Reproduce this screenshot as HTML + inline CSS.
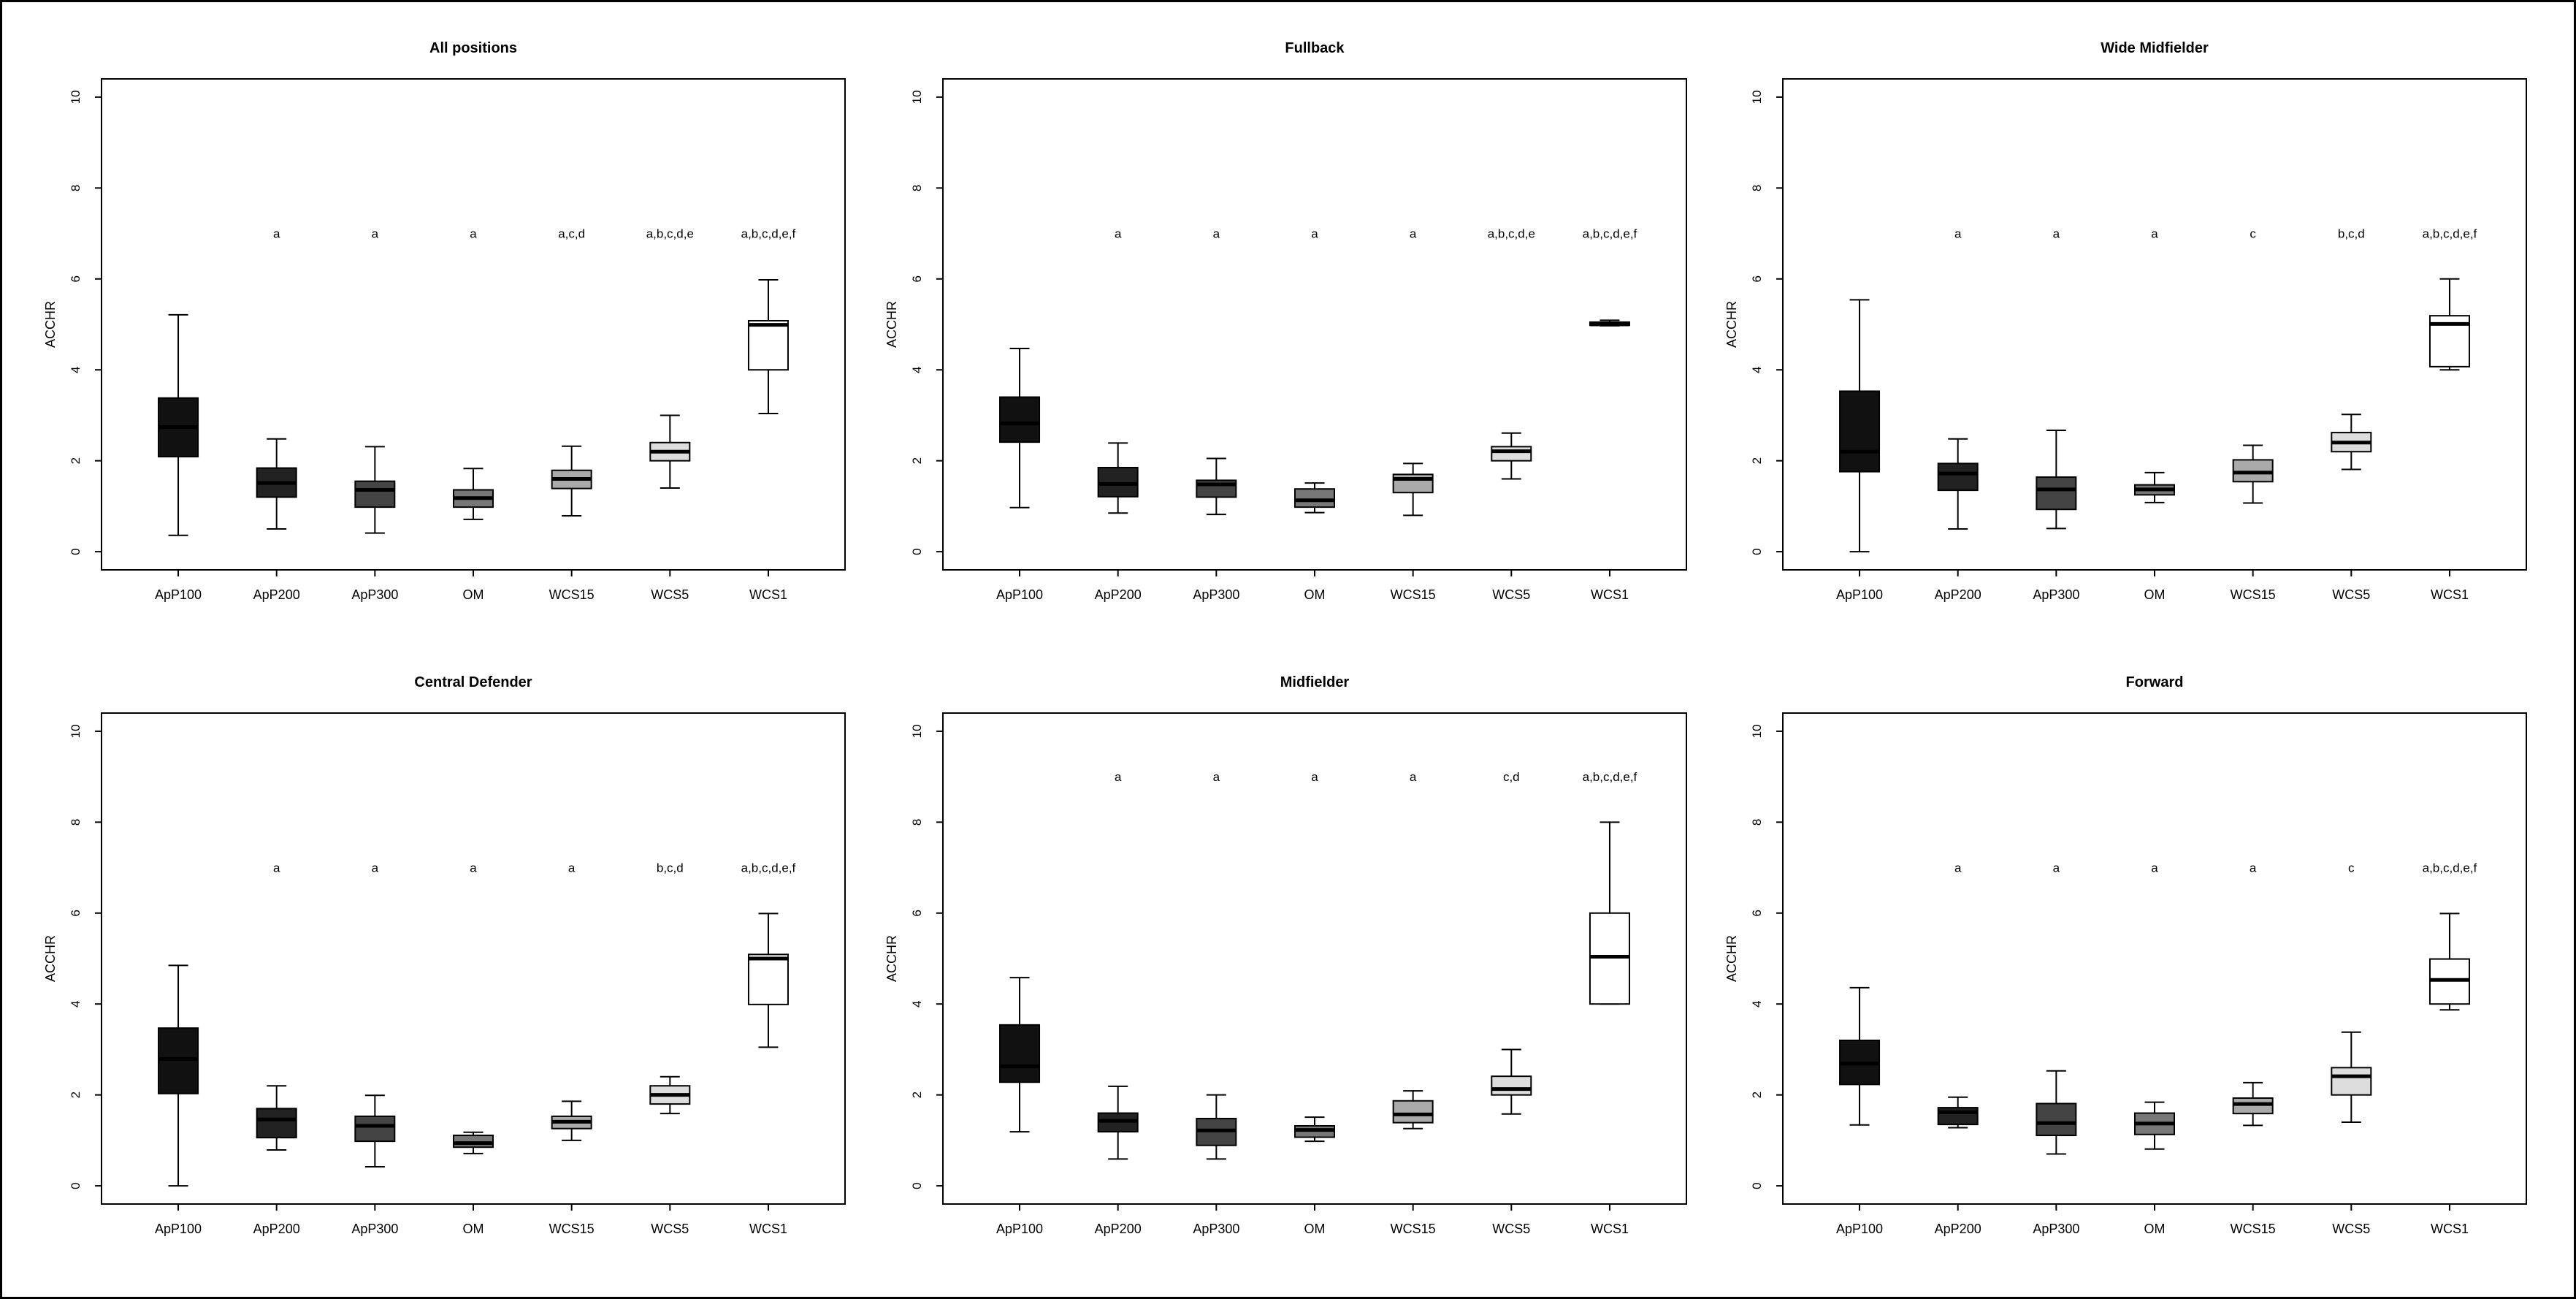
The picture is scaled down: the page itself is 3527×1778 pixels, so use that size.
<!DOCTYPE html>
<html><head><meta charset="utf-8"><style>
html,body{margin:0;padding:0;background:#fff}
svg{display:block}
text{font-family:"Liberation Sans",Arial,sans-serif;fill:#000}
</style></head><body>
<svg id="fig" width="3527" height="1778" viewBox="0 0 3527 1778" xmlns="http://www.w3.org/2000/svg">
<rect x="1.5" y="1.5" width="3524" height="1775" fill="#fff" stroke="#000" stroke-width="3"/>
</svg>
<script>
const categories = ["ApP100","ApP200","ApP300","OM","WCS15","WCS5","WCS1"];
const fills = ["#111111","#222222","#444444","#777777","#aaaaaa","#dddddd","#ffffff"];
const panelTitles = ["All positions","Fullback","Wide Midfielder","Central Defender","Midfielder","Forward"];
const yTicks = [0,2,4,6,8,10];
// each box: [lower whisker, Q1, median, Q3, upper whisker]
const allPositions = [[0.36,2.09,2.74,3.38,5.21],[0.5,1.2,1.51,1.84,2.48],[0.41,0.98,1.36,1.55,2.31],[0.71,0.98,1.18,1.36,1.83],[0.79,1.39,1.6,1.79,2.32],[1.4,2.0,2.2,2.4,3.0],[3.04,4.0,4.99,5.08,5.98]];
const fullback = [[0.97,2.41,2.82,3.4,4.47],[0.85,1.21,1.49,1.85,2.39],[0.82,1.2,1.48,1.57,2.05],[0.86,0.98,1.13,1.38,1.51],[0.8,1.3,1.6,1.7,1.94],[1.6,2.0,2.21,2.31,2.61],[4.97,4.98,5.0,5.05,5.09]];
const wideMidfielder = [[0,1.76,2.2,3.53,5.54],[0.5,1.35,1.72,1.94,2.48],[0.51,0.93,1.37,1.64,2.67],[1.08,1.25,1.37,1.47,1.74],[1.07,1.54,1.74,2.02,2.34],[1.81,2.2,2.4,2.62,3.02],[4.0,4.07,5.01,5.19,6.0]];
const centralDefender = [[0,2.03,2.79,3.47,4.85],[0.79,1.06,1.46,1.7,2.2],[0.42,0.98,1.32,1.53,1.99],[0.71,0.85,0.94,1.11,1.18],[1.0,1.26,1.41,1.53,1.86],[1.59,1.8,2.0,2.2,2.4],[3.05,3.99,5.0,5.09,5.99]];
const midfielder = [[1.19,2.28,2.63,3.54,4.58],[0.59,1.19,1.43,1.6,2.19],[0.59,0.89,1.22,1.48,2.0],[0.98,1.07,1.23,1.32,1.51],[1.26,1.39,1.57,1.87,2.09],[1.58,2.0,2.13,2.41,3.0],[4.0,4.0,5.04,6.0,8.0]];
const forward = [[1.34,2.23,2.69,3.2,4.36],[1.28,1.35,1.62,1.72,1.95],[0.7,1.11,1.38,1.81,2.53],[0.81,1.13,1.37,1.6,1.84],[1.33,1.59,1.8,1.93,2.27],[1.4,2.0,2.41,2.6,3.38],[3.87,4.0,4.53,4.99,5.99]];
const letters1 = ["","a","a","a","a,c,d","a,b,c,d,e","a,b,c,d,e,f"];
const letters2 = ["","a","a","a","a","a,b,c,d,e","a,b,c,d,e,f"];
const letters3 = ["","a","a","a","c","b,c,d","a,b,c,d,e,f"];
const letters4 = ["","a","a","a","a","b,c,d","a,b,c,d,e,f"];
const letters5 = ["","a","a","a","a","c,d","a,b,c,d,e,f"];
const letters6 = ["","a","a","a","a","c","a,b,c,d,e,f"];
const letterLevels = [7,7,7,7,9,7];

const panelData = [allPositions,fullback,wideMidfielder,centralDefender,midfielder,forward];
const panelLetters = [letters1,letters2,letters3,letters4,letters5,letters6];

const NS="http://www.w3.org/2000/svg";
const svg=document.getElementById("fig");
function mk(tag,attrs,parent){const e=document.createElementNS(NS,tag);for(const k in attrs)e.setAttribute(k,attrs[k]);(parent||svg).appendChild(e);return e;}
const slug=s=>s.toLowerCase().replace(/[^a-z0-9]+/g,"-");

const lefts=[139,1291,2441], tops=[108,976];
const W=1018,H=672;
panelData.forEach((data,p)=>{
  const L=lefts[p%3], T=tops[Math.floor(p/3)];
  const xs=i=>L+(i+1-0.5+0.28)*(W/7.56);
  const ys=v=>T+H-(v+0.4)*(H/10.8);
  const g=mk("g",{});
  
  
  const t=mk("text",{x:L+W/2,y:T-36,"text-anchor":"middle","font-size":"20","font-weight":"bold"},g);
  t.textContent=panelTitles[p];
  
  
  const fr=mk("rect",{x:L,y:T,width:W,height:H,fill:"none",stroke:"#000","stroke-width":2},g);
  
  
  const yl=mk("text",{transform:`translate(${L-64},${T+H/2}) rotate(-90)`,"text-anchor":"middle","font-size":"18"},g);
  yl.textContent="ACCHR";
  
  
  yTicks.forEach(v=>{
    const y=ys(v);
    const tk=mk("line",{x1:L,x2:L-9,y1:y,y2:y,stroke:"#000","stroke-width":2},g);
    
    
    const tl=mk("text",{transform:`translate(${L-30},${y}) rotate(-90)`,"text-anchor":"middle","font-size":"17"},g);
    tl.textContent=v;
    
    
  });
  categories.forEach((c,i)=>{
    const x=xs(i), d=data[i], hw=27;
    const tk=mk("line",{x1:x,x2:x,y1:T+H,y2:T+H+9,stroke:"#000","stroke-width":2},g);
    
    
    const cl=mk("text",{x:x,y:T+H+40,"text-anchor":"middle","font-size":"18"},g);
    cl.textContent=c;
    
    
    const bg=mk("g",{},g);
    
    
    mk("line",{x1:x,x2:x,y1:ys(d[0]),y2:ys(d[1]),stroke:"#000","stroke-width":2},bg);
    mk("line",{x1:x,x2:x,y1:ys(d[3]),y2:ys(d[4]),stroke:"#000","stroke-width":2},bg);
    mk("line",{x1:x-hw/2,x2:x+hw/2,y1:ys(d[0]),y2:ys(d[0]),stroke:"#000","stroke-width":2},bg);
    mk("line",{x1:x-hw/2,x2:x+hw/2,y1:ys(d[4]),y2:ys(d[4]),stroke:"#000","stroke-width":2},bg);
    mk("rect",{x:x-hw,y:ys(d[3]),width:2*hw,height:Math.max(1,ys(d[1])-ys(d[3])),fill:fills[i],stroke:"#000","stroke-width":2},bg);
    mk("line",{x1:x-hw,x2:x+hw,y1:ys(d[2]),y2:ys(d[2]),stroke:"#000","stroke-width":5},bg);
    const lt=panelLetters[p][i];
    if(lt){
      const s=mk("text",{x:x,y:ys(letterLevels[p])+6,"text-anchor":"middle","font-size":"17"},g);
      s.textContent=lt;
      
      
    }
  });
});
</script>
</body></html>
